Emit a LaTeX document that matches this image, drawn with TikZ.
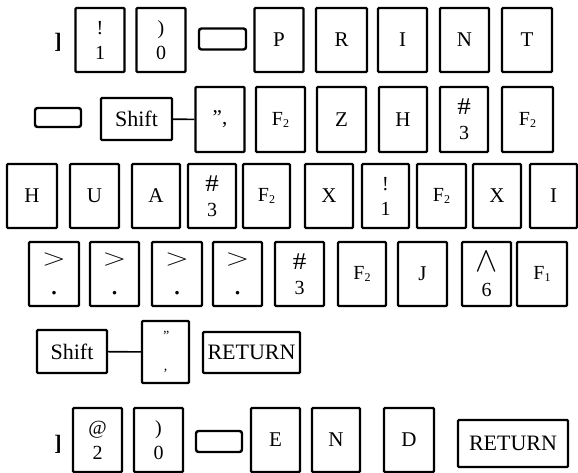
\documentclass[tikz,border=0pt]{standalone}
\usepackage{fontspec}
\setmainfont{Liberation Serif}
\newcommand{\Ftwo}{F\raisebox{-2pt}{\fontsize{12}{12}\selectfont 2}}
\newcommand{\Fone}{F\raisebox{-2pt}{\fontsize{12}{12}\selectfont 1}}
\newcommand{\gt}{\scalebox{1.5}[1.15]{$>$}}
\newcommand{\hsh}{\scalebox{1.35}[1.2]{\#}}
\newcommand{\dotk}{\scalebox{1.5}{.}}
\begin{document}
\begin{tikzpicture}[x=1pt,y=-1pt,
  keybox/.style={draw, line width=2.2pt, rounded corners=1pt, minimum width=49pt, minimum height=64pt, inner sep=0pt, font=\fontsize{21}{23}\selectfont},
  twokey/.style={keybox, align=center, font=\fontsize{20}{25}\selectfont},
  gtkey/.style={keybox, align=center, font=\fontsize{20}{29}\selectfont},
  fkey/.style={keybox, font=\fontsize{20}{22}\selectfont},
  spacebar/.style={draw, line width=2.4pt, rounded corners=2.5pt, minimum width=47pt, minimum height=21pt, inner sep=0pt},
  widekey/.style={draw, line width=2.2pt, rounded corners=1pt, inner sep=0pt, font=\fontsize{22}{24}\selectfont},
  brk/.style={font=\fontsize{22}{22}\selectfont\bfseries, inner sep=0pt},
  link/.style={line width=1.6pt}]
\useasboundingbox (0,0) rectangle (578,473);
% Row 1
\node[brk] (b1) at (58,42) {]};
\node[twokey] (r1a) at (100,40) {!\\1};
\node[twokey] (r1b) at (161,40) {)\\0};
\node[spacebar] (r1s) at (222.5,39) {};
\node[keybox] (r1p) at (279,40) {P};
\node[keybox, minimum width=51pt] (r1r) at (341.5,40) {R};
\node[keybox] (r1i) at (402.5,40) {I};
\node[keybox] (r1n) at (464.5,40) {N};
\node[keybox, minimum width=50pt] (r1t) at (527,40) {T};
% Row 2
\node[spacebar, minimum width=46pt, minimum height=19pt] (r2s) at (58,117.5) {};
\node[widekey, minimum width=71pt, minimum height=42pt] (r2shift) at (136.5,119) {Shift};
\node[keybox, minimum height=65pt] (r2q) at (220,119.5) {”,};
\node[fkey, minimum height=65pt] (r2f) at (280.5,119.5) {\Ftwo};
\node[keybox, minimum height=65pt] (r2z) at (341.5,119.5) {Z};
\node[keybox, minimum height=65pt, minimum width=48pt] (r2h) at (403,119.5) {H};
\node[twokey, minimum height=65pt, minimum width=48pt] (r2n) at (464,119.5) {\hsh\\3};
\node[fkey, minimum height=65pt, minimum width=51pt] (r2f2) at (527.5,119.5) {\Ftwo};
\draw[link] (r2shift) -- (r2q);
% Row 3
\node[keybox, minimum width=50pt] (r3h) at (32,196) {H};
\node[keybox] (r3u) at (94.5,196) {U};
\node[keybox, minimum width=48pt] (r3a) at (156,196) {A};
\node[twokey, minimum width=48pt] (r3n) at (212,196) {\hsh\\3};
\node[fkey, minimum width=47pt] (r3f) at (266.5,196) {\Ftwo};
\node[keybox, minimum width=48pt] (r3x) at (329,196) {X};
\node[twokey, minimum width=47pt] (r3e) at (385.5,196) {!\\1};
\node[fkey] (r3f2) at (441.5,196) {\Ftwo};
\node[keybox, minimum width=48pt] (r3x2) at (497,196) {X};
\node[keybox, minimum width=47pt] (r3i) at (553.5,196) {I};
% Row 4
\node[gtkey, minimum width=50pt] (r4a) at (54,274) {\gt\\\dotk};
\node[gtkey] (r4b) at (114.5,274) {\gt\\\dotk};
\node[gtkey, minimum width=50pt] (r4c) at (177,274) {\gt\\\dotk};
\node[gtkey] (r4d) at (237.5,274) {\gt\\\dotk};
\node[twokey] (r4n) at (299.5,274) {\hsh\\3};
\node[fkey, minimum width=48pt] (r4f) at (362,274) {\Ftwo};
\node[keybox] (r4j) at (422.5,274) {J};
\node[twokey] (r4w) at (486.5,274) {\scalebox{1.6}[1.7]{$\wedge$}\\6};
\node[fkey, minimum width=50pt] (r4f1) at (542,274) {\Fone};
% Row 5
\node[widekey, minimum width=70pt, minimum height=43pt] (r5shift) at (72,351.5) {Shift};
\node[keybox, minimum width=47pt, minimum height=62pt, align=center, font=\fontsize{14}{30}\selectfont] (r5q) at (165.5,352) {\textit{''}\\\textit{,}};
\node[widekey, minimum width=97pt, minimum height=41pt] (r5ret) at (251.5,352.5) {RETURN};
\draw[link] (r5shift) -- (r5q);
% Row 6
\node[brk] (b6) at (58,444) {]};
\node[twokey] (r6a) at (97.5,440) {@\\2};
\node[twokey] (r6b) at (158.5,440) {)\\0};
\node[spacebar, minimum width=46pt] (r6s) at (219,441.5) {};
\node[keybox] (r6e) at (275.5,440) {E};
\node[keybox, minimum width=48pt] (r6n) at (336,440) {N};
\node[keybox, minimum width=50pt] (r6d) at (409,440) {D};
\node[widekey, minimum width=110pt, minimum height=47pt] (r6ret) at (513,443.5) {RETURN};
\end{tikzpicture}
\end{document}
